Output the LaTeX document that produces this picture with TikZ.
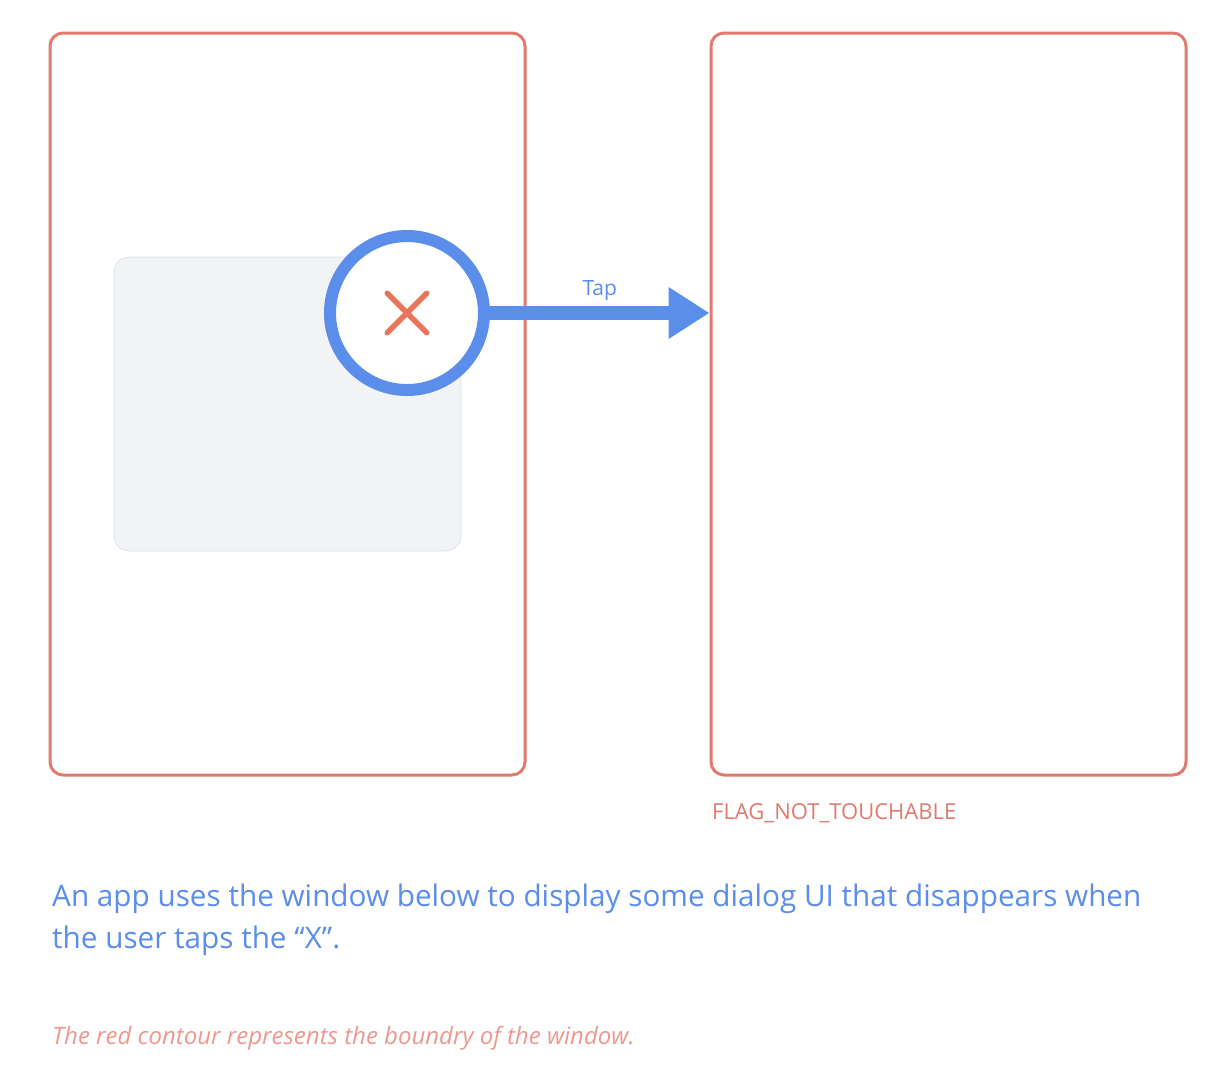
\documentclass[tikz,border=0pt]{standalone}
\usepackage{fontspec}
\setmainfont{Open Sans}
\usetikzlibrary{shapes.misc, arrows.meta, positioning}
\definecolor{window_red}{RGB}{224, 122, 110}
\definecolor{tap_blue}{RGB}{91, 141, 234}
\definecolor{dialog_gray}{RGB}{241, 243, 244}
\definecolor{dialog_edge}{RGB}{222, 224, 238}
\definecolor{close_orange}{RGB}{232, 117, 90}
\definecolor{note_red}{RGB}{236, 152, 142}

\begin{document}
\begin{tikzpicture}[
    x=1pt, y=-1pt,
    window/.style={
        rectangle,
        draw=window_red,
        line width=3pt,
        minimum width=475pt,
        minimum height=742pt,
        rounded corners=13pt
    },
    dialog/.style={
        rectangle,
        draw=dialog_edge,
        fill=dialog_gray,
        line width=0.8pt,
        minimum width=347pt,
        minimum height=294pt,
        rounded corners=15pt
    },
    ring/.style={
        circle,
        draw=tap_blue,
        fill=white,
        line width=12pt,
        minimum size=154pt,
        inner sep=0pt
    },
    closemark/.style={
        cross out,
        draw=close_orange,
        line width=5.5pt,
        line cap=round,
        minimum size=34pt,
        inner sep=0pt
    },
    arrow/.style={
        -{Triangle[length=41pt, width=49pt]},
        line width=14pt,
        #1
    },
    label/.style={
        text=#1,
        inner sep=0pt,
        align=left
    }
]
\useasboundingbox (0,0) rectangle (1230,1082);

\node[window] (leftwin) at (287.5,404) {};
\node[window] (rightwin) at (948.5,404) {};

\node[dialog] (dialog) at (287.5,404) {};
\node[ring] (tapring) at (407,313) {};
\node[closemark] (closex) at (tapring.center) {};

\draw[arrow=tap_blue] (tapring.east) -- (rightwin.west |- tapring.east)
    node[midway, label=tap_blue, anchor=base, yshift=18pt, font=\fontsize{21}{24}\selectfont] (tap) {Tap};

\node[label=window_red, anchor=base west, font=\fontsize{22}{24}\selectfont] (flag) at (712,819) {FLAG\_NOT\_TOUCHABLE};

% base anchor sits on the last line
\node[label=tap_blue, anchor=base west, font=\fontsize{29.7}{42}\selectfont] (caption) at (52,948)
    {An app uses the window below to display some dialog UI that disappears when\\the user taps the “X”.};

\node[label=note_red, anchor=base west, font=\fontsize{24}{26}\selectfont\itshape] (note) at (52,1044)
    {The red contour represents the boundry of the window.};

\end{tikzpicture}
\end{document}
